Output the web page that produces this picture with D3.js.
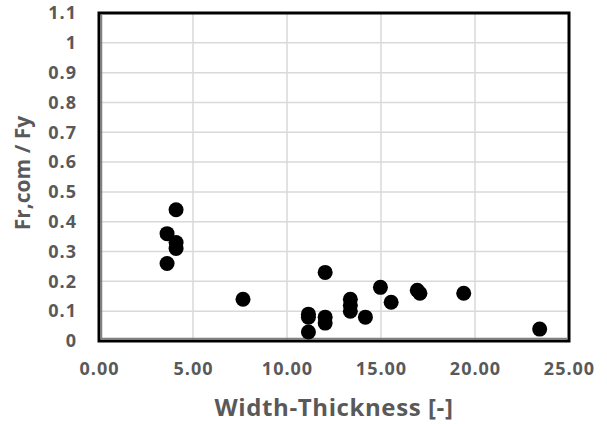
<!DOCTYPE html>
<html lang="en">
<head>
<meta charset="UTF-8">
<title>Fr,com / Fy vs Width-Thickness</title>
<script src="https://cdn.jsdelivr.net/npm/d3@7"></script>
<style>
    body { margin: 0; background: #fff; }
    text { font-family: "Open Sans", "Noto Sans", sans-serif; font-weight: 700; fill: #595959; }
</style>
</head>
<body>
<div id="chart"></div>
<script>
    // data
    const widthThickness = [4.10, 3.62, 4.10, 4.10, 3.62, 7.66, 12.03, 11.14, 11.14, 11.14,
        12.03, 12.03, 13.37, 13.37, 13.37, 14.17, 14.97, 15.54, 16.93, 17.07, 19.40, 23.44];
    const frRatio = [0.44, 0.36, 0.33, 0.31, 0.26, 0.14, 0.23, 0.09, 0.08, 0.03,
        0.08, 0.06, 0.14, 0.12, 0.10, 0.08, 0.18, 0.13, 0.17, 0.16, 0.16, 0.04];
    const xTicks = [0, 5, 10, 15, 20, 25];
    const yTicks = [0, 0.1, 0.2, 0.3, 0.4, 0.5, 0.6, 0.7, 0.8, 0.9, 1, 1.1];

    const width = 607, height = 424;
    const margin = { top: 13, right: 38, bottom: 83, left: 99 };
    const w = width - margin.left - margin.right;
    const h = height - margin.top - margin.bottom;

    const svg = d3.select("#chart").append("svg")
        .attr("width", width)
        .attr("height", height);

    const g = svg.append("g")
        .attr("transform", `translate(${margin.left},${margin.top})`);

    const x = d3.scaleLinear().domain([0, 25]).range([0, w]);
    const y = d3.scaleLinear().domain([0, 1.1]).range([h, 0]);

    // gridlines
    g.selectAll(".vgrid").data(xTicks.slice(1, -1)).enter().append("line")
        .attr("x1", d => x(d)).attr("x2", d => x(d))
        .attr("y1", 0).attr("y2", h)
        .attr("stroke", "#d9d9d9").attr("stroke-width", 1.5);
    g.selectAll(".hgrid").data(yTicks.slice(1, -1)).enter().append("line")
        .attr("x1", 0).attr("x2", w)
        .attr("y1", d => y(d)).attr("y2", d => y(d))
        .attr("stroke", "#d9d9d9").attr("stroke-width", 1.5);

    // axes (labels only)
    const xAxis = g.append("g")
        .attr("transform", `translate(0,${h})`)
        .call(d3.axisBottom(x).tickValues(xTicks).tickFormat(d3.format(".2f")).tickSize(0).tickPadding(21));
    const yAxis = g.append("g")
        .call(d3.axisLeft(y).tickValues(yTicks).tickFormat(d => d3.format("")(+d.toFixed(1))).tickSize(0).tickPadding(22));
    [xAxis, yAxis].forEach(a => {
        a.select(".domain").remove();
        a.selectAll("text").attr("font-size", 18).attr("fill", "#595959")
            .attr("letter-spacing", 1)
            .attr("font-family", "'Open Sans', sans-serif").attr("font-weight", 700);
    });

    // frame
    g.append("rect")
        .attr("width", w).attr("height", h)
        .attr("fill", "none").attr("stroke", "#000").attr("stroke-width", 3);
    g.append("line")
        .attr("x1", 2.5).attr("x2", 2.5).attr("y1", 1.5).attr("y2", h - 1.5)
        .attr("stroke", "#808080").attr("stroke-width", 1.5);
    g.append("line")
        .attr("x1", 1.5).attr("x2", w - 1.5).attr("y1", h - 2.5).attr("y2", h - 2.5)
        .attr("stroke", "#808080").attr("stroke-width", 1.5);

    // points
    g.selectAll(".dot").data(d3.zip(widthThickness, frRatio)).enter().append("circle")
        .attr("cx", d => x(d[0]))
        .attr("cy", d => y(d[1]))
        .attr("r", 7.5)
        .attr("fill", "#000");

    // titles
    svg.append("text")
        .attr("x", 334)
        .attr("y", 416)
        .attr("text-anchor", "middle")
        .attr("font-size", 24)
        .attr("letter-spacing", 0.6)
        .text("Width-Thickness [-]");
    svg.append("text")
        .attr("transform", `translate(30,${173}) rotate(-90)`)
        .attr("text-anchor", "middle")
        .attr("font-size", 21)
        .text("Fr,com / Fy");
</script>
</body>
</html>
